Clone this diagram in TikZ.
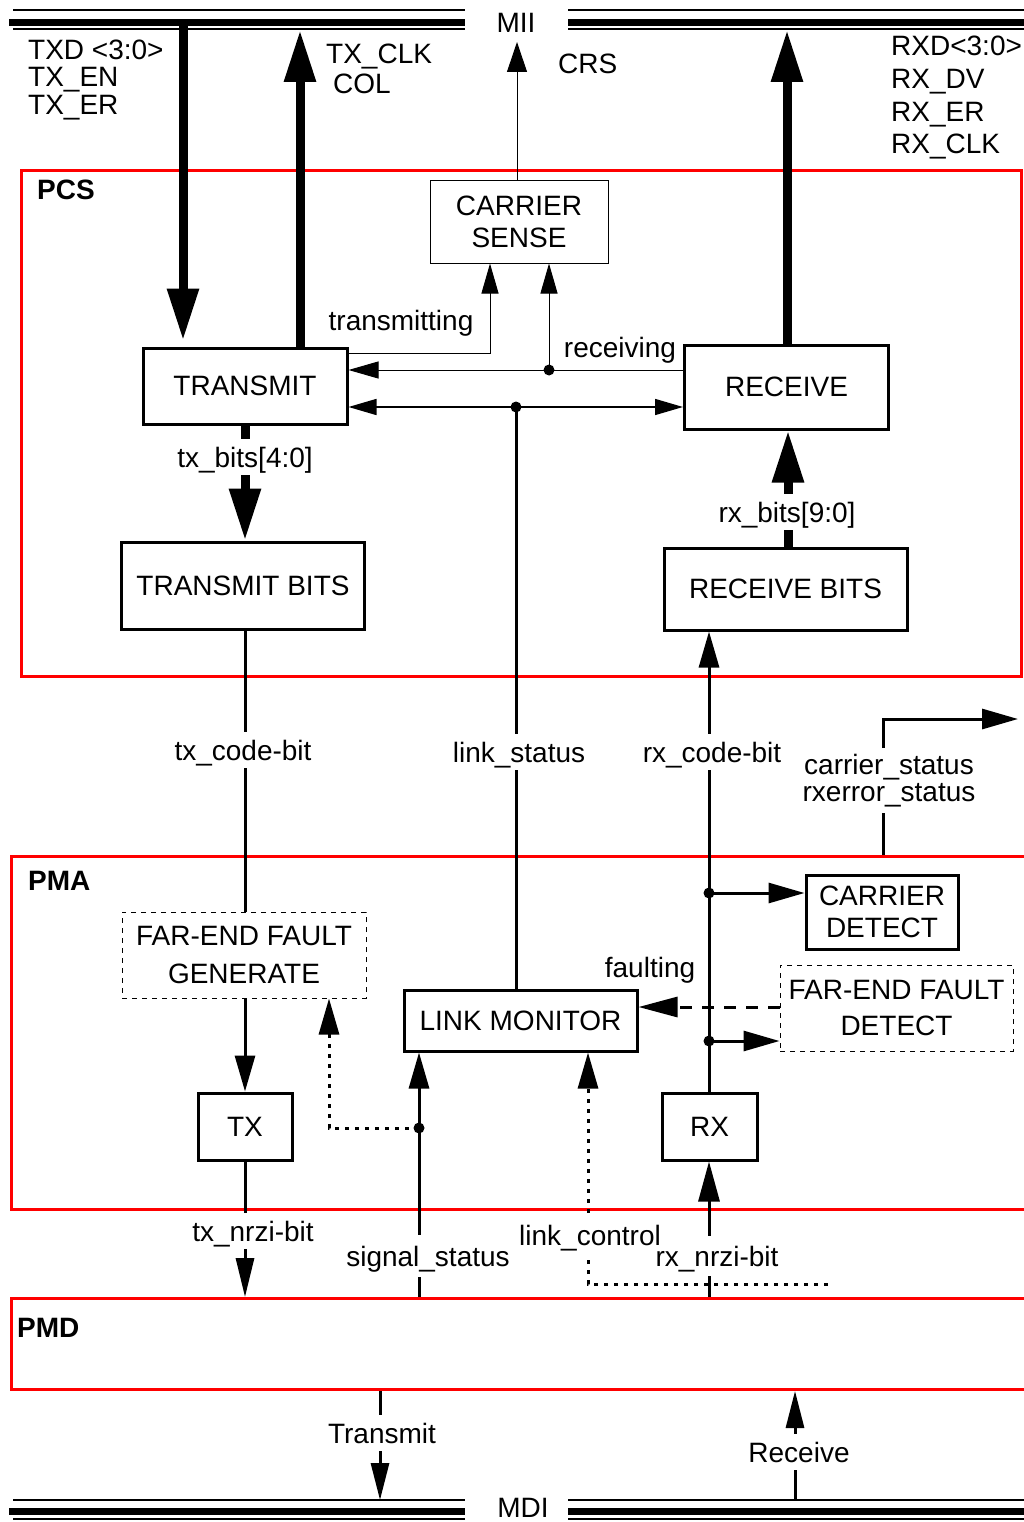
\documentclass[tikz,border=0pt]{standalone}
\usepackage{fontspec}
\setmainfont{Liberation Sans}
\usetikzlibrary{arrows.meta}
\begin{document}
\begin{tikzpicture}[x=1pt,y=-1pt,
  lab/.style={font=\fontsize{28}{32}\selectfont, inner sep=0pt, text height=20pt, text depth=0pt},
  glab/.style={lab, fill=white, inner xsep=3pt, inner ysep=8pt},
  slab/.style={lab, inner xsep=0pt, inner ysep=10pt},
  blab/.style={lab, font=\fontsize{28}{32}\selectfont\bfseries, anchor=west},
  box/.style={draw, line width=3pt, font=\fontsize{28}{32}\selectfont, align=center, inner sep=0pt},
  tbox/.style={box, line width=1pt},
  dbox/.style={box, line width=1pt, dash pattern=on 5pt off 5pt},
  redbox/.style={draw=red, line width=3pt, anchor=north west, inner sep=0pt},
  bigarr/.style={line width=9pt, -{Triangle[length=52pt,width=30pt]}},
  medarr/.style={line width=3pt, -{Triangle[length=36pt,width=20pt]}},
  thinarr/.style={line width=1pt, -{Triangle[length=30pt,width=17pt]}},
  medline/.style={line width=3pt},
  dotl/.style={line width=3pt, dash pattern=on 4pt off 6pt},
  jdot/.style={circle, fill, inner sep=0pt, minimum size=11pt},
  bus/.style={line width=7pt},
  busthin/.style={line width=1.5pt},
]
\useasboundingbox (0,0) rectangle (1023,1522);

% layer regions
\node[redbox, minimum width=1000pt, minimum height=506pt] (pcs) at (20,169) {};
\node[redbox, minimum width=1025pt, minimum height=353pt] (pma) at (10,855) {};
\node[redbox, minimum width=1025pt, minimum height=91pt] (pmd) at (10,1297) {};

% MII bus
\draw[busthin] (13,10) -- (465,10);
\draw[bus] (9,23) -- (465,23);
\draw[busthin] (13,29) -- (465,29);
\draw[busthin] (568,10) -- (1030,10);
\draw[bus] (568,23) -- (1030,23);
\draw[busthin] (568,29) -- (1030,29);
\node[lab] (mii) at (516,23) {MII};
% MDI bus
\draw[busthin] (13,1500) -- (465,1500);
\draw[bus] (9,1511.5) -- (465,1511.5);
\draw[busthin] (13,1519) -- (465,1519);
\draw[busthin] (568,1500) -- (1030,1500);
\draw[bus] (568,1511.5) -- (1030,1511.5);
\draw[busthin] (568,1519) -- (1030,1519);
\node[lab] (mdi) at (523,1507) {MDI};

% blocks
\node[tbox, minimum width=178pt, minimum height=82pt] (cs) at (519,222) {CARRIER\\SENSE};
\node[box, minimum width=204pt, minimum height=76pt] (tr) at (245,386) {TRANSMIT};
\node[box, minimum width=204pt, minimum height=84pt] (rcv) at (786.5,387) {RECEIVE};
\node[box, minimum width=243pt, minimum height=87pt] (tb) at (243,585.5) {TRANSMIT BITS};
\node[box, minimum width=243pt, minimum height=82pt] (rb) at (785.5,589) {RECEIVE BITS};
\node[dbox, minimum width=244pt, minimum height=86pt, font=\fontsize{28}{38}\selectfont] (fefg) at (244,955) {FAR-END FAULT\\GENERATE};
\node[box, minimum width=94pt, minimum height=67pt] (tx) at (245,1126.5) {TX};
\node[box, minimum width=233pt, minimum height=61pt] (lm) at (520.5,1020.5) {LINK MONITOR};
\node[box, minimum width=95pt, minimum height=67pt] (rx) at (709.5,1126.5) {RX};
\node[box, minimum width=152pt, minimum height=74pt] (cd) at (882,912) {CARRIER\\DETECT};
\node[dbox, minimum width=233pt, minimum height=86pt, font=\fontsize{28}{36}\selectfont] (fefd) at (896.5,1008) {FAR-END FAULT\\DETECT};

% labels that split their lines
\node[slab, inner ysep=12pt] (l_lc) at (590,1235) {link\_control};
\node[slab] (l_rxn) at (717,1256) {rx\_nrzi-bit};

% MII connectors
\coordinate (txdtop) at (183,23);
\draw[bigarr, shorten >=6pt] (txdtop) -- (txdtop |- tr.north);
\coordinate (clktop) at (300,30);
\draw[bigarr] (clktop |- tr.north) -- (clktop);
\coordinate (crstop) at (517,42);
\draw[line width=1pt, -{Triangle[length=30pt,width=20pt]}] (crstop |- cs.north) -- (crstop);
\coordinate (rxtop) at (787,30);
\draw[bigarr] (rxtop |- rcv.north) -- (rxtop);

% PCS internals
\coordinate (tm) at (490,353);
\draw[thinarr] (tr.east |- tm) -- (tm) -- (tm |- cs.south);
\coordinate (rdot) at (549,370);
\draw[thinarr] (rcv.west |- rdot) -- (tr.east |- rdot);
\draw[thinarr] (rdot) -- (rdot |- cs.south);
\node[jdot] (rd) at (rdot) {};
\coordinate (ldot) at (516,407);
\draw[line width=1.5pt, {Triangle[length=28pt,width=16pt]}-{Triangle[length=28pt,width=16pt]}] (tr.east |- ldot) -- (rcv.west |- ldot);
\draw[medline] (ldot) -- (ldot |- lm.north);
\node[jdot] (ld) at (ldot) {};
\draw[bigarr] (tr.south) -- (tr.south |- tb.north);
\coordinate (rbx) at (788,0);
\draw[bigarr] (rbx |- rb.north) -- (rbx |- rcv.south);

% PCS <-> PMA
\draw[medline] (tr.south |- tb.south) -- (tr.south |- fefg.north);
\coordinate (rxx) at (709,0);
\draw[medarr] (rxx |- rx.north) -- (rxx |- rb.south);

% PMA internals
\draw[medarr] (tx.north |- fefg.south) -- (tx.north);
\coordinate (cdot) at (709,893);
\coordinate (fdot) at (709,1041);
\draw[medarr] (cdot) -- (cdot -| cd.west);
\draw[medarr] (fdot) -- (fdot -| fefd.west);
\node[jdot] (cdd) at (cdot) {};
\node[jdot] (fdd) at (fdot) {};
\coordinate (fy) at (709,1007);
\draw[line width=3pt, dash pattern=on 12pt off 10pt, -{Triangle[length=39pt,width=20pt]}] (fy -| fefd.west) -- (fy -| lm.east);
\coordinate (c2) at (883,719);
\coordinate (c3) at (1018,719);
\draw[medarr] (c2 |- pma.north) -- (c2) -- (c3);

\coordinate (sdot) at (419,1128);
\coordinate (sd2) at (329,1128);
\draw[medarr] (sdot |- pmd.north) -- (sdot |- lm.south);
\draw[dotl, -{Triangle[length=36pt,width=20pt]}] (sdot) -- (sd2) -- (sd2 |- fefg.south);
\node[jdot] (sd) at (sdot) {};
\coordinate (lc1) at (828,1284);
\coordinate (lc2) at (588,1284);
\draw[dotl] (lc1) -- (lc2) -- (lc2 |- l_lc.south);
\draw[dotl, -{Triangle[length=36pt,width=20pt]}] (lc2 |- l_lc.north) -- (lc2 |- lm.south);

% PMA <-> PMD
\draw[line width=3pt, -{Triangle[length=39pt,width=18pt]}] (tx.south) -- (tx.south |- pmd.north);
\draw[line width=3pt] (rxx |- pmd.north) -- (rxx |- l_rxn.south);
\draw[line width=3pt, -{Triangle[length=40pt,width=21pt]}] (rxx |- l_rxn.north) -- (rxx |- rx.south);

% PMD <-> MDI
\coordinate (tmb) at (380,1500);
\draw[line width=3pt, -{Triangle[length=37pt,width=18pt]}] (tmb |- pmd.south) -- (tmb);
\coordinate (rcb) at (795,1500);
\draw[line width=3pt, -{Triangle[length=37pt,width=18pt]}] (rcb) -- (rcb |- pmd.south);

% labels on lines
\node[glab] (l_txbits) at (245,457) {tx\_bits[4:0]};
\node[glab] (l_rxbits) at (787,512) {rx\_bits[9:0]};
\node[glab] (l_txcb) at (243,750) {tx\_code-bit};
\node[glab] (l_ls) at (519,752) {link\_status};
\node[glab] (l_rxcb) at (712,752) {rx\_code-bit};
\node[glab, inner ysep=12pt] (l_cs2) at (889,791) {rxerror\_status};
\node[glab, inner ysep=6pt] (l_cs1) at (889,764) {carrier\_status};
\node[glab] (l_txn) at (253,1231) {tx\_nrzi-bit};
\node[glab, inner ysep=11pt] (l_ss) at (428,1256) {signal\_status};
\node[glab] (l_tm) at (382,1433) {Transmit};
\node[glab] (l_rc) at (799,1452) {Receive};

% free labels
\node[lab, anchor=west] (l_txd) at (28,50) {TXD <3:0>};
\node[lab, anchor=west] (l_txen) at (28,77) {TX\_EN};
\node[lab, anchor=west] (l_txer) at (28,105) {TX\_ER};
\node[lab, anchor=west] (l_txclk) at (326,54) {TX\_CLK};
\node[lab, anchor=west] (l_col) at (333,84) {COL};
\node[lab, anchor=west] (l_crs) at (558,64) {CRS};
\node[lab, anchor=west] (l_rxd) at (891,46) {RXD<3:0>};
\node[lab, anchor=west] (l_rxdv) at (891,79) {RX\_DV};
\node[lab, anchor=west] (l_rxer) at (891,112) {RX\_ER};
\node[lab, anchor=west] (l_rxclk) at (891,144) {RX\_CLK};
\node[blab] (l_pcs) at (37,190) {PCS};
\node[blab] (l_pma) at (28,880) {PMA};
\node[blab] (l_pmd) at (17,1327) {PMD};
\node[lab] (l_tmg) at (401,320) {transmitting};
\node[lab] (l_rcvg) at (620,347) {receiving};
\node[lab] (l_flt) at (650,967) {faulting};
\end{tikzpicture}
\end{document}
